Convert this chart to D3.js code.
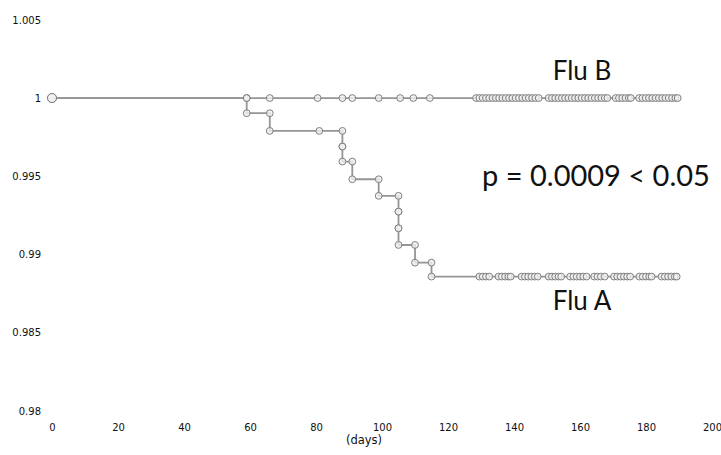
<!DOCTYPE html>
<html>
<head>
<meta charset="utf-8">
<script src="https://cdn.jsdelivr.net/npm/d3@7"></script>
<style>
  html, body { margin: 0; padding: 0; background: #fff; }
  svg { display: block; }
</style>
</head>
<body>
<svg id="chart" width="721" height="455"></svg>
<script>
// Kaplan–Meier style survival curves, Flu A vs Flu B

// Axis ticks
const xTicks = [0, 20, 40, 60, 80, 100, 120, 140, 160, 180, 200];
const yTicks = [0.98, 0.985, 0.99, 0.995, 1, 1.005];
const yTickLabels = ["0.98", "0.985", "0.99", "0.995", "1", "1.005"];

// Flu A: event days and survival after each event
const fluAEventDays = [59, 66, 88, 88, 91, 99, 105, 105, 105, 110, 115];
const fluASurvival  = [0.99903, 0.9979, 0.9969, 0.99594, 0.99481, 0.99375,
                       0.99274, 0.99168, 0.99061, 0.98948, 0.98859];
// Flu A censored observations (days)
const fluACensorDays = [0, 81,
  129.5, 130.5, 131.5, 132.5, 135.3, 136.3, 137.3, 138.3, 139,
  142.3, 143.3, 144.3, 145.3, 146.3, 147.2,
  150.5, 151.5, 152.5, 153.5, 154.3,
  157, 158, 159, 160, 161, 162,
  164.3, 165.3, 166.3, 167.5,
  170.3, 171.3, 172.3, 173.3, 174.3, 175.2,
  178, 179, 180, 181, 181.7,
  184.7, 185.7, 186.7, 187.7, 188.7, 189.3];

// Flu B: no events, censored observations only (days)
const fluBCensorDays = [0, 59, 66, 80.5, 88, 91, 99, 105.5, 109.5, 114.5,
  128.5, 129.5, 130.5, 131.5, 132.5, 133.5, 134.5, 135.5, 136.5, 137.5, 138.5,
  139.5, 140.5, 141.5, 142.5, 143.5, 144.5, 145.5, 146.5, 147.5,
  150.5, 151.5, 152.5, 153.5, 154.5, 155.5, 156.5, 157.5, 158.5, 159.5,
  160.5, 161.5, 162.5, 163.5, 164.5, 165.5, 166.5, 167.5, 168.3,
  170.8, 171.8, 172.8, 173.8, 174.8, 175.4,
  177.9, 178.9, 179.9, 180.9, 181.9, 182.9, 183.9, 184.9, 185.9,
  186.9, 187.9, 188.9, 189.6];

// Annotations
const labelFluB = "Flu B";
const labelFluA = "Flu A";
const labelP = "p = 0.0009 < 0.05";
const xTitle = "(days)";

const svg = d3.select("#chart");

const x = d3.scaleLinear().domain([0, 200]).range([52, 712]);
const y = d3.scaleLinear().domain([0.98, 1.005]).range([411, 19.8]);

// Axes: labels only, no lines
const yAxis = svg.append("g")
  .attr("transform", `translate(${x(0)},0)`)
  .call(d3.axisLeft(y).tickValues(yTicks)
    .tickFormat((d, i) => yTickLabels[i]).tickSize(0).tickPadding(11));
yAxis.select(".domain").remove();

const xAxis = svg.append("g")
  .attr("transform", `translate(0,${y(0.98)})`)
  .call(d3.axisBottom(x).tickValues(xTicks).tickFormat(d3.format("d"))
    .tickSize(0).tickPadding(13));
xAxis.select(".domain").remove();

svg.selectAll(".tick text")
  .attr("font-family", "DejaVu Sans, Verdana, sans-serif")
  .attr("font-size", 10)
  .attr("fill", "#111");

// Build step coordinates for Flu A
function survivalAt(day, days, surv) {
  let s = 1;
  for (let i = 0; i < days.length; i++) if (days[i] <= day) s = surv[i];
  return s;
}

const fluAEnd = d3.max(fluACensorDays);
const fluBEnd = d3.max(fluBCensorDays);

const fluAPath = [[0, 1]];
let prev = 1;
fluAEventDays.forEach((d, i) => {
  fluAPath.push([d, prev]);
  fluAPath.push([d, fluASurvival[i]]);
  prev = fluASurvival[i];
});
fluAPath.push([fluAEnd, prev]);

const fluBPath = [[0, 1], [fluBEnd, 1]];

const line = d3.line().x(d => x(d[0])).y(d => y(d[1]));

const lineColor = "#959595";

svg.append("path").datum(fluBPath)
  .attr("d", line).attr("fill", "none")
  .attr("stroke", lineColor).attr("stroke-width", 1.8);

svg.append("path").datum(fluAPath)
  .attr("d", line).attr("fill", "none")
  .attr("stroke", lineColor).attr("stroke-width", 1.8);

// Markers: step corners for Flu A, censor marks for both groups
const fluAMarks = fluAPath.slice(1, -1)
  .concat(fluACensorDays.map(d => [d, survivalAt(d, fluAEventDays, fluASurvival)]));
const fluBMarks = fluBCensorDays.map(d => [d, 1]);

function drawMarks(data) {
  svg.append("g").selectAll("circle").data(data).join("circle")
    .attr("cx", d => x(d[0]))
    .attr("cy", d => y(d[1]))
    .attr("r", d => d[0] === 0 ? 4.5 : 3.4)
    .attr("fill", "#f0f0f0")
    .attr("fill-opacity", 0.8)
    .attr("stroke", "#808080")
    .attr("stroke-width", 1);
}
drawMarks(fluBMarks);
drawMarks(fluAMarks);

// Text annotations
const bigFont = "Lato, 'Open Sans', sans-serif";
svg.append("text").attr("x", 582).attr("y", 80)
  .attr("text-anchor", "middle").attr("font-family", bigFont)
  .attr("font-size", 26).attr("fill", "#111").text(labelFluB);

svg.append("text").attr("x", 582).attr("y", 310)
  .attr("text-anchor", "middle").attr("font-family", bigFont)
  .attr("font-size", 26).attr("fill", "#111").text(labelFluA);

svg.append("text").attr("x", 596).attr("y", 186)
  .attr("text-anchor", "middle").attr("font-family", bigFont)
  .attr("font-size", 29).attr("fill", "#111").text(labelP);

svg.append("text").attr("x", 364).attr("y", 444)
  .attr("text-anchor", "middle")
  .attr("font-family", "DejaVu Sans, Verdana, sans-serif")
  .attr("font-size", 11.5).attr("fill", "#111").text(xTitle);
</script>
</body>
</html>
